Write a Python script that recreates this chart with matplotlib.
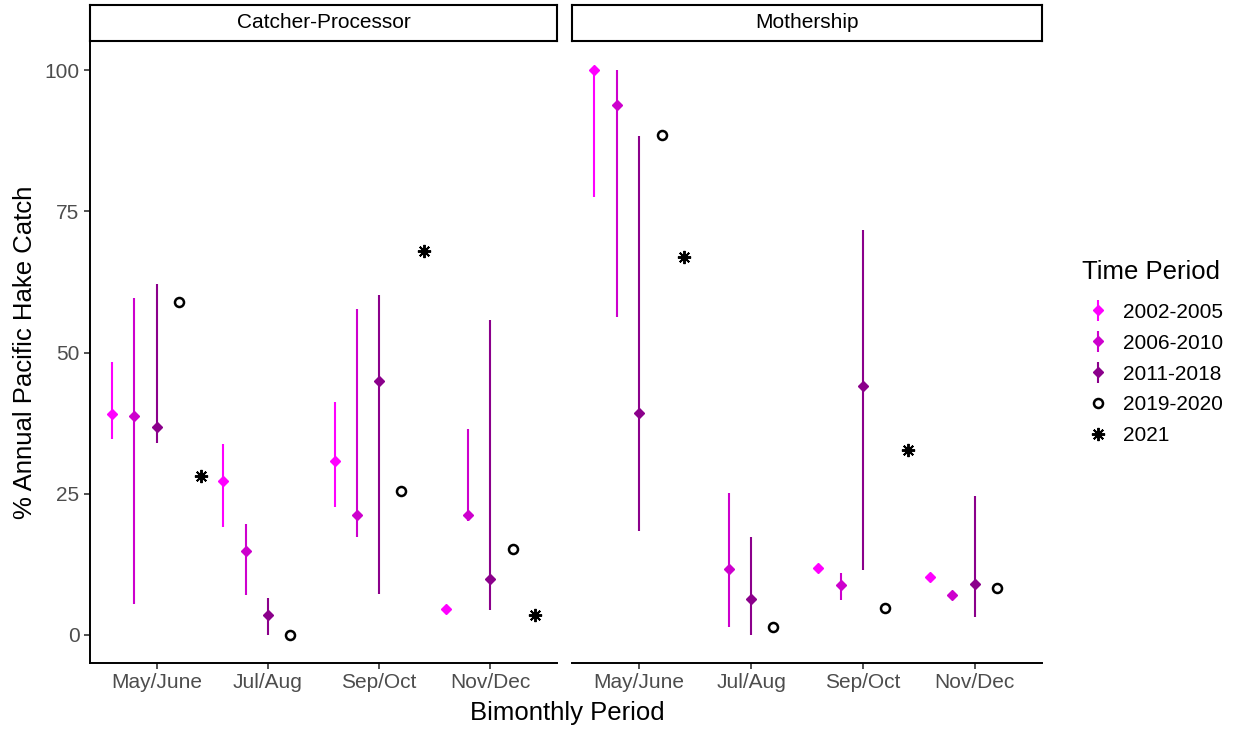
import matplotlib
matplotlib.use('Agg')

import numpy as np
import matplotlib.pyplot as plt

plt.rcParams['font.family'] = ['Liberation Sans', 'DejaVu Sans']

# ---------------------------------------------------------------------------
# data
# ---------------------------------------------------------------------------
periods = ['May/June', 'Jul/Aug', 'Sep/Oct', 'Nov/Dec']
sectors = ['Catcher-Processor', 'Mothership']
groups = ['2002-2005', '2006-2010', '2011-2018', '2019-2020', '2021']

# mean, low, high per period; nan = no value
cp_0205 = [39.1, 27.3, 30.7, 4.6]
cp_0205_lo = [34.6, 19.1, 22.7, np.nan]
cp_0205_hi = [48.3, 33.8, 41.3, np.nan]
cp_0610 = [38.7, 14.9, 21.2, 21.2]
cp_0610_lo = [5.4, 7.0, 17.3, 20.1]
cp_0610_hi = [59.6, 19.7, 57.7, 36.5]
cp_1118 = [36.8, 3.5, 45.0, 9.8]
cp_1118_lo = [34.0, 0.0, 7.3, 4.3]
cp_1118_hi = [62.2, 6.6, 60.1, 55.7]
cp_1920 = [58.9, 0.0, 25.5, 15.2]
cp_2021 = [28.1, np.nan, 67.9, 3.5]

ms_0205 = [100.0, np.nan, 11.9, 10.3]
ms_0205_lo = [77.6, np.nan, np.nan, np.nan]
ms_0205_hi = [100.0, np.nan, np.nan, np.nan]
ms_0610 = [93.8, 11.6, 8.9, 7.0]
ms_0610_lo = [56.3, 1.3, 6.1, np.nan]
ms_0610_hi = [100.0, 25.1, 11.0, np.nan]
ms_1118 = [39.3, 6.4, 44.1, 9.0]
ms_1118_lo = [18.3, 0.0, 11.5, 3.1]
ms_1118_hi = [88.4, 17.4, 71.7, 24.5]
ms_1920 = [88.5, 1.4, 4.7, 8.3]
ms_2021 = [67.0, np.nan, 32.7, np.nan]

range_colors = ['#FF00FF', '#CD00CD', '#8B008B']

panels = {
    'Catcher-Processor': {
        'ranges': [(cp_0205, cp_0205_lo, cp_0205_hi),
                   (cp_0610, cp_0610_lo, cp_0610_hi),
                   (cp_1118, cp_1118_lo, cp_1118_hi)],
        'recent': cp_1920,
        'latest': cp_2021,
    },
    'Mothership': {
        'ranges': [(ms_0205, ms_0205_lo, ms_0205_hi),
                   (ms_0610, ms_0610_lo, ms_0610_hi),
                   (ms_1118, ms_1118_lo, ms_1118_hi)],
        'recent': ms_1920,
        'latest': ms_2021,
    },
}

# ---------------------------------------------------------------------------
# figure
# ---------------------------------------------------------------------------
W, H = 1238, 732
fig = plt.figure(figsize=(W / 100, H / 100), dpi=100)

panel_px = [(90, 557), (572, 1042)]
top_px, bot_px = 42, 663
strip_top = 5

x = np.arange(1, len(periods) + 1)
offsets = [-0.4, -0.2, 0.0, 0.2, 0.4]
legend_handles = []

for i, (name, (x0, x1)) in enumerate(zip(sectors, panel_px)):
    ax = fig.add_axes([x0 / W, 1 - bot_px / H, (x1 - x0) / W, (bot_px - top_px) / H])
    d = panels[name]

    for g, (vals, lo, hi) in enumerate(d['ranges']):
        vals = np.array(vals, dtype=float)
        lo = np.array(lo, dtype=float)
        hi = np.array(hi, dtype=float)
        err = np.vstack([np.nan_to_num(vals - lo), np.nan_to_num(hi - vals)])
        h = ax.errorbar(x + offsets[g], vals, yerr=err, fmt='D', ms=5.5,
                        color=range_colors[g], ecolor=range_colors[g],
                        elinewidth=1.5, capsize=0, zorder=3)
        if i == 0:
            legend_handles.append(h)

    h4, = ax.plot(x + offsets[3], d['recent'], 'o', ms=6.5, mfc='white', mec='black',
                  mew=1.8, ls='none', zorder=4)
    h5, = ax.plot(x + offsets[4], d['latest'], marker=(8, 2, 0), ms=9.5, mec='black',
                  mew=1.4, ls='none', zorder=4)
    if i == 0:
        legend_handles += [h4, h5]

    ax.set_xlim(0.4, 4.6)
    ax.set_ylim(-5, 105)
    ax.set_xticks(x)
    ax.set_xticklabels(periods)
    ax.set_yticks([0, 25, 50, 75, 100])
    ax.tick_params(colors='#333333', labelcolor='#4D4D4D', labelsize=15, length=4, width=1.2)
    for s in ['top', 'right']:
        ax.spines[s].set_visible(False)
    ax.spines['bottom'].set_linewidth(1.4)
    ax.spines['left'].set_linewidth(1.4)
    if i == 1:
        ax.spines['left'].set_visible(False)
        ax.tick_params(axis='y', left=False, labelleft=False)

    # facet strip
    sax = fig.add_axes([x0 / W, 1 - (top_px - 1) / H, (x1 - x0) / W, (top_px - 1 - strip_top) / H])
    sax.set_xticks([])
    sax.set_yticks([])
    for s in sax.spines.values():
        s.set_linewidth(1.5)
    sax.text(0.5, 0.5, name, ha='center', va='center', fontsize=15, transform=sax.transAxes)

fig.text(567 / W, 1 - 713 / H, 'Bimonthly Period', ha='center', va='center', fontsize=18.5)
fig.text(25 / W, 1 - 352 / H, '% Annual Pacific Hake Catch', ha='center', va='center',
         rotation=90, fontsize=18.5)

# legend: title as its own text, entries below
fig.text(1082 / W, 1 - 272 / H, 'Time Period', ha='left', va='center', fontsize=18.5)
leg = fig.legend(legend_handles, groups, loc='upper left',
                 bbox_to_anchor=(1067 / W, 1 - 284 / H), frameon=False,
                 fontsize=15, handlelength=1.2, handletextpad=0.6, labelspacing=0.57)

fig.savefig('out.png', dpi=100)
